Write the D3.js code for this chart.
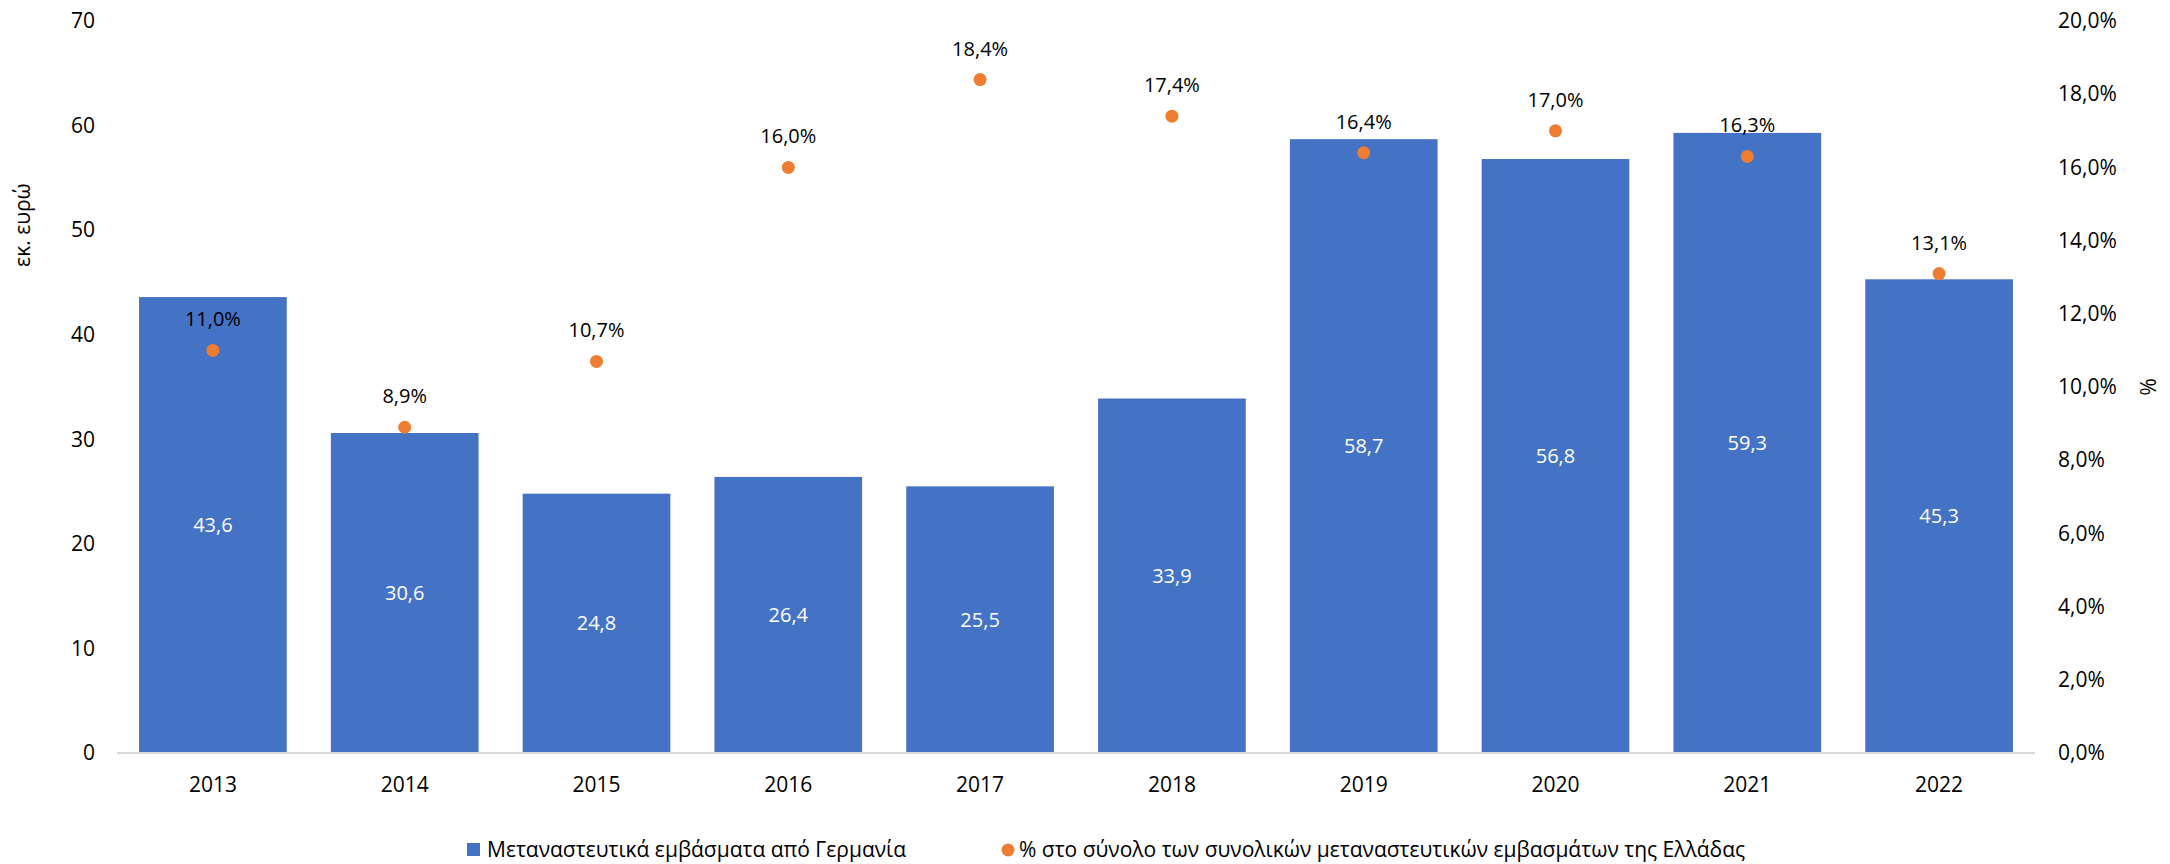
<!DOCTYPE html>
<html>
<head>
<meta charset="utf-8">
<script src="https://cdn.jsdelivr.net/npm/d3@7"></script>
<style>
  body { margin: 0; background: #fff; }
  svg text { font-family: "Open Sans", "Noto Sans", sans-serif; }
</style>
</head>
<body>
<svg id="chart" width="2170" height="864"></svg>
<script>
const years = ["2013","2014","2015","2016","2017","2018","2019","2020","2021","2022"];
const remittances = [43.6, 30.6, 24.8, 26.4, 25.5, 33.9, 58.7, 56.8, 59.3, 45.3];
const shares = [11.0, 8.9, 10.7, 16.0, 18.4, 17.4, 16.4, 17.0, 16.3, 13.1];
const leftTicks = [0, 10, 20, 30, 40, 50, 60, 70];
const rightTicks = [0, 2, 4, 6, 8, 10, 12, 14, 16, 18, 20];
const seriesNames = ["Μεταναστευτικά εμβάσματα από Γερμανία", "% στο σύνολο των συνολικών μεταναστευτικών εμβασμάτων της Ελλάδας"];
const yTitleLeft = "εκ. ευρώ";
const yTitleRight = "%";

const svg = d3.select("#chart");
const m = { left: 117, right: 2035, top: 21, bottom: 753 };
const fmt1 = v => v.toFixed(1).replace(".", ",");

const x = d3.scaleBand().domain(years).range([m.left, m.right]).paddingInner(0.23).paddingOuter(0.115);
const yL = d3.scaleLinear().domain([0, 70]).range([m.bottom, m.top]);
const yR = d3.scaleLinear().domain([0, 20]).range([m.bottom, m.top]);

// bars
svg.append("g").selectAll("rect").data(years).join("rect")
  .attr("x", d => x(d))
  .attr("y", (d, i) => yL(remittances[i]))
  .attr("width", x.bandwidth())
  .attr("height", (d, i) => yL(0) - yL(remittances[i]))
  .attr("fill", "#4472C4");

// bar labels
svg.append("g").selectAll("text").data(years).join("text")
  .attr("x", d => x(d) + x.bandwidth() / 2)
  .attr("y", (d, i) => (yL(remittances[i]) + yL(0)) / 2)
  .attr("dy", "0.35em")
  .attr("text-anchor", "middle")
  .attr("fill", "#fff")
  .attr("font-size", 20)
  .text((d, i) => fmt1(remittances[i]));

// x axis baseline
svg.append("line")
  .attr("x1", m.left).attr("x2", m.right)
  .attr("y1", yL(0)).attr("y2", yL(0))
  .attr("stroke", "#D9D9D9").attr("stroke-width", 2);

// left axis
const gL = svg.append("g").attr("transform", `translate(${m.left - 22},0)`)
  .call(d3.axisLeft(yL).tickValues(leftTicks).tickSize(0).tickPadding(0));
gL.select(".domain").remove();
gL.selectAll("text").attr("font-size", 21).attr("fill", "#000").attr("font-family", "Open Sans");

// right axis
const gR = svg.append("g").attr("transform", `translate(2058,0)`)
  .call(d3.axisRight(yR).tickValues(rightTicks).tickSize(0).tickPadding(0).tickFormat(d => fmt1(d) + "%"));
gR.select(".domain").remove();
gR.selectAll("text").attr("font-size", 21).attr("fill", "#000").attr("font-family", "Open Sans");

// x axis labels
const gX = svg.append("g").attr("transform", `translate(0,${yL(0)})`)
  .call(d3.axisBottom(x).tickSize(0).tickPadding(24));
gX.select(".domain").remove();
gX.selectAll("text").attr("font-size", 21).attr("fill", "#000").attr("font-family", "Open Sans");

// dots
svg.append("g").selectAll("circle").data(years).join("circle")
  .attr("cx", d => x(d) + x.bandwidth() / 2)
  .attr("cy", (d, i) => yR(shares[i]))
  .attr("r", 6.5)
  .attr("fill", "#ED7D31");

// dot labels
svg.append("g").selectAll("text").data(years).join("text")
  .attr("x", d => x(d) + x.bandwidth() / 2)
  .attr("y", (d, i) => yR(shares[i]) - 31)
  .attr("dy", "0.35em")
  .attr("text-anchor", "middle")
  .attr("fill", "#000")
  .attr("font-size", 20)
  .text((d, i) => fmt1(shares[i]) + "%");

// axis titles
svg.append("text")
  .attr("transform", `translate(30,225) rotate(-90)`)
  .attr("text-anchor", "middle")
  .attr("font-size", 21)
  .text(yTitleLeft);
svg.append("text")
  .attr("transform", `translate(2140,387) rotate(90)`)
  .attr("text-anchor", "middle")
  .attr("font-size", 21)
  .text(yTitleRight);

// legend
const lg = svg.append("g");
lg.append("rect").attr("x", 467).attr("y", 843).attr("width", 13).attr("height", 13).attr("fill", "#4472C4");
lg.append("text").attr("x", 487).attr("y", 850).attr("dy", "0.35em").attr("font-size", 21).text(seriesNames[0]);
lg.append("circle").attr("cx", 1008).attr("cy", 850).attr("r", 6.5).attr("fill", "#ED7D31");
lg.append("text").attr("x", 1019).attr("y", 850).attr("dy", "0.35em").attr("font-size", 21).text(seriesNames[1]);
</script>
</body>
</html>
